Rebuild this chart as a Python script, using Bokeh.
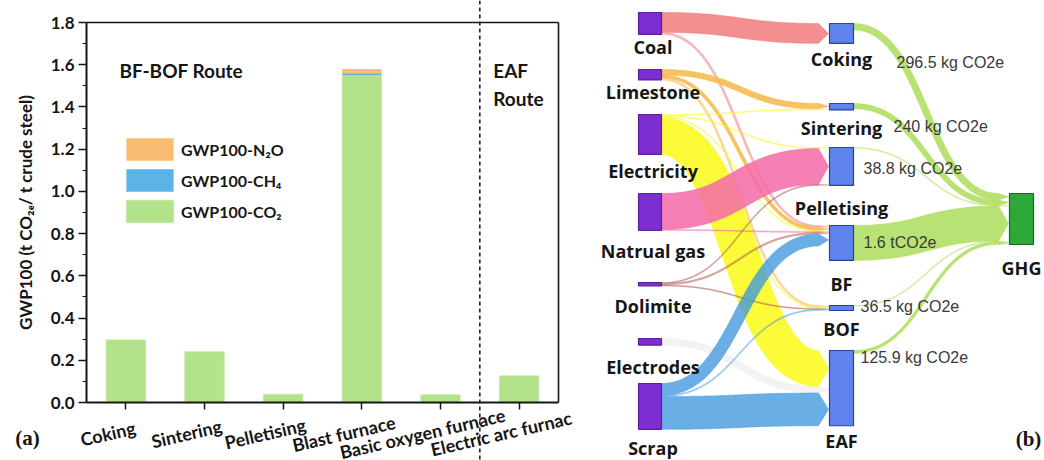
import numpy as np
from bokeh.plotting import figure
from bokeh.models import (ColumnDataSource, Range1d, Span, Label, LabelSet, Legend,
                          LegendItem, NumeralTickFormatter, FixedTicker, LinearAxis)
from bokeh.layouts import row
from bokeh.embed import file_html
from bokeh.resources import INLINE
from bokeh.core.properties import value

# ---------- (a) GWP100 of each process step (t CO2e / t crude steel) ----------
processes = ["Coking", "Sintering", "Pelletising", "Blast furnace",
             "Basic oxygen furnace", "Electric arc furnace"]
process_tick_labels = ["Coking", "Sintering", "Pelletising", "Blast furnace",
                       "Basic oxygen furnace", "Electric arc furnac"]
gwp_co2 = [0.2965, 0.2400, 0.0388, 1.5500, 0.0365, 0.1259]
gwp_ch4 = [0.0, 0.0, 0.0, 0.0100, 0.0, 0.0]
gwp_n2o = [0.0, 0.0, 0.0, 0.0200, 0.0, 0.0]
gwp_ticks = [0.0, 0.2, 0.4, 0.6, 0.8, 1.0, 1.2, 1.4, 1.6, 1.8]
gas_names = ["GWP100-N\u2082O", "GWP100-CH\u2084", "GWP100-CO\u2082"]

# ---------- (b) inputs -> process steps -> GHG ----------
input_nodes = ["Coal", "Limestone", "Electricity", "Natrual gas", "Dolimite", "Electrodes", "Scrap"]
step_nodes = ["Coking", "Sintering", "Pelletising", "BF", "BOF", "EAF"]
sink_node = "GHG"
flow_source = ["Coal", "Coal",
               "Limestone", "Limestone", "Limestone",
               "Electricity", "Electricity", "Electricity", "Electricity", "Electricity",
               "Natrual gas", "Natrual gas",
               "Dolimite", "Dolimite", "Dolimite",
               "Electrodes",
               "Scrap", "Scrap", "Scrap"]
flow_target = ["Coking", "BF",
               "Sintering", "BF", "BOF",
               "Sintering", "Pelletising", "BF", "BOF", "EAF",
               "Pelletising", "BF",
               "Pelletising", "BF", "BOF",
               "EAF",
               "BF", "BOF", "EAF"]
flow_value = [910, 90,
              250, 140, 90,
              45, 45, 45, 45, 1650,
              1650, 45,
              45, 70, 45,
              300,
              550, 50, 1500]
step_ghg_kg = [296.5, 240.0, 38.8, 1600.0, 36.5, 125.9]

# ---------- shared styling ----------
INK = "#161616"
AX_FONT = "Lato"
GREEN, BLUE, ORANGE = "#b2e38b", "#5cb3e6", "#f8bc72"

# =====================================================================
# (a) stacked bars
# =====================================================================
n_proc = len(processes)
x_pos = [i + 0.5 for i in range(n_proc)]
Y_MAX = gwp_ticks[-1]
PX_X = 472 / n_proc          # pixels per category slot
PX_Y = 380 / Y_MAX           # pixels per t CO2e
pa = figure(width=580, height=460,
            x_range=Range1d(-86 / PX_X, n_proc + 22 / PX_X),
            y_range=Range1d(-58 / PX_Y, Y_MAX + 22 / PX_Y),
            title=None, output_backend="svg", toolbar_location=None,
            x_axis_location=None, y_axis_location=None,
            min_border_left=0, min_border_right=0, min_border_top=0, min_border_bottom=0)
pa.background_fill_color = "white"
pa.border_fill_color = "white"
pa.grid.visible = False
pa.outline_line_color = None

src_a = ColumnDataSource(dict(x=x_pos, co2=gwp_co2, ch4=gwp_ch4, n2o=gwp_n2o))
bars = pa.vbar_stack(["co2", "ch4", "n2o"], x="x", width=0.5, source=src_a,
                     fill_color=[GREEN, BLUE, ORANGE],
                     line_color=["#c8e8a4", None, None], line_width=1)

minor = [(a + b) / 2 for a, b in zip(gwp_ticks[:-1], gwp_ticks[1:])]
yax = LinearAxis(fixed_location=0, bounds=(0, Y_MAX),
                 ticker=FixedTicker(ticks=gwp_ticks, minor_ticks=minor),
                 formatter=NumeralTickFormatter(format="0.0"))
yax.axis_label = "GWP100 (t CO\u2082\u2091/ t crude steel)"
yax.axis_label_text_font = AX_FONT
yax.axis_label_text_font_style = "bold"
yax.axis_label_text_font_size = "17px"
yax.axis_label_text_color = INK
yax.axis_label_standoff = 12
yax.major_label_text_font = AX_FONT
yax.major_label_text_font_style = "bold"
yax.major_label_text_font_size = "17px"
yax.major_label_text_color = INK
yax.major_label_standoff = 4
yax.major_tick_out = 8
yax.major_tick_in = 0
yax.minor_tick_out = 4
yax.minor_tick_in = 0
yax.axis_line_width = 2
yax.major_tick_line_width = 1.5
yax.minor_tick_line_width = 1.2
yax.axis_line_color = INK
yax.major_tick_line_color = INK
yax.minor_tick_line_color = INK
pa.add_layout(yax, "left")

xax = LinearAxis(fixed_location=0, bounds=(0, n_proc), ticker=FixedTicker(ticks=x_pos, minor_ticks=[]))
xax.major_label_text_color = None
xax.major_tick_out = 7
xax.major_tick_in = 0
xax.minor_tick_line_color = None
xax.axis_line_width = 2
xax.major_tick_line_width = 1.5
xax.axis_line_color = INK
xax.major_tick_line_color = INK
pa.add_layout(xax, "below")

# closing frame lines on top and right
for loc, side, bnds in [(Y_MAX, "above", (0, n_proc)), (n_proc, "right", (0, Y_MAX))]:
    ax = LinearAxis(fixed_location=loc, bounds=bnds, ticker=FixedTicker(ticks=[], minor_ticks=[]))
    ax.major_label_text_color = None
    ax.major_tick_line_color = None
    ax.minor_tick_line_color = None
    ax.axis_line_color = INK
    ax.axis_line_width = 1.6
    pa.add_layout(ax, side)

legend = Legend(items=[LegendItem(label=gas_names[0], renderers=[bars[2]]),
                       LegendItem(label=gas_names[1], renderers=[bars[1]]),
                       LegendItem(label=gas_names[2], renderers=[bars[0]])],
                location=(120, 235), padding=0, margin=0, spacing=3,
                glyph_width=59, glyph_height=28, label_height=28, label_standoff=2,
                border_line_color=None, background_fill_alpha=0,
                label_text_font=AX_FONT, label_text_font_size="16px",
                label_text_font_style="bold", label_text_color=INK)
pa.add_layout(legend)

# rotated category labels under the axis
tick_src = ColumnDataSource(dict(x=x_pos, y=[0] * n_proc, text=process_tick_labels))
pa.add_layout(LabelSet(x="x", y="y", text="text", source=tick_src,
                       x_offset=-18, y_offset=-31, angle=0.227,
                       text_align="center", text_baseline="middle",
                       text_font=value(AX_FONT), text_font_style="bold",
                       text_font_size="18px", text_color=INK))

# route separator and route names
pa.add_layout(Span(location=n_proc - 1, dimension="height", line_color=INK,
                   line_width=1.5, line_dash="4 3"))
route_style = dict(text_font=AX_FONT, text_font_style="bold", text_font_size="19px",
                   text_color=INK, text_baseline="middle")
pa.add_layout(Label(x=0.42, y=1.573, text="BF-BOF Route", **route_style))
pa.add_layout(Label(x=5.17, y=1.573, text="EAF", **route_style))
pa.add_layout(Label(x=5.17, y=1.44, text="Route", **route_style))
pa.add_layout(Label(x=-0.75, y=-0.17, text="(a)", text_font="Liberation Serif",
                    text_font_style="bold", text_font_size="21px", text_color=INK,
                    text_align="center", text_baseline="middle"))

# =====================================================================
# (b) Sankey of inputs, process steps and GHG
# =====================================================================
pb = figure(width=464, height=460, x_range=Range1d(580, 1044), y_range=Range1d(460, 0),
            title=None, output_backend="svg", toolbar_location=None,
            x_axis_location=None, y_axis_location=None,
            min_border_left=0, min_border_right=0, min_border_top=0, min_border_bottom=0)
pb.grid.visible = False
pb.outline_line_color = None
pb.background_fill_color = "white"
pb.border_fill_color = "white"

COL_LEFT = [638, 829, 1009]
COL_W = [23, 24, 24]
input_top = [12, 69, 114, 193, 282, 338, 383]
step_top = [23, 103, 147, 225, 305, 350]
sink_top = 193
PX_PER_UNIT = 51.0 / 2337.7
TIP = 10

link_color = {"Coal": ("#f27b7b", 0.85), "Limestone": ("#f6b746", 0.85),
              "Electricity": ("#fbfb1f", 0.88), "Natrual gas": ("#f56aa8", 0.85),
              "Dolimite": ("#a84b45", 0.75), "Electrodes": ("#cbbfc8", 0.2),
              "Scrap": ("#3f98df", 0.78)}
GHG_LINK = ("#a9dc55", 0.82)

names = input_nodes + step_nodes + [sink_node]
col = [0] * len(input_nodes) + [1] * len(step_nodes) + [2]
top = input_top + step_top + [sink_top]
n_in = len(input_nodes)

links = []  # (source index, target index, value, color, alpha)
for s, t, v in zip(flow_source, flow_target, flow_value):
    c, a = link_color[s]
    links.append((input_nodes.index(s), n_in + step_nodes.index(t), v, c, a))
for i, v in enumerate(step_ghg_kg):
    links.append((n_in + i, len(names) - 1, v, GHG_LINK[0], GHG_LINK[1]))

N = len(names)
out_sum = [0.0] * N
in_sum = [0.0] * N
for s, t, v, _, _ in links:
    out_sum[s] += v
    in_sum[t] += v
height = [max(o, i) * PX_PER_UNIT for o, i in zip(out_sum, in_sum)]

y0 = {}
y1 = {}
for node in range(N):
    outs = sorted([k for k, l in enumerate(links) if l[0] == node], key=lambda k: top[links[k][1]])
    y = top[node]
    for k in outs:
        y0[k] = y
        y += links[k][2] * PX_PER_UNIT
    ins = sorted([k for k, l in enumerate(links) if l[1] == node], key=lambda k: top[links[k][0]])
    y = top[node]
    for k in ins:
        y1[k] = y
        y += links[k][2] * PX_PER_UNIT


def ribbon(xa, ya, xb, yb, w, tip, n=60):
    """Band of constant thickness w along a horizontal-tangent cubic, ending in an arrow."""
    xe = xb - tip
    xm = (xa + xe) / 2
    t = np.linspace(0, 1, n)
    u = 1 - t
    px = u**3 * xa + 3 * u**2 * t * xm + 3 * u * t**2 * xm + t**3 * xe
    py = u**3 * ya + 3 * u**2 * t * ya + 3 * u * t**2 * yb + t**3 * yb
    dx = 3 * u**2 * (xm - xa) + 3 * t**2 * (xe - xm)
    dy = 6 * u * t * (yb - ya)
    L = np.hypot(dx, dy)
    L[L == 0] = 1
    nx, ny = -dy / L, dx / L
    h = w / 2
    tx, ty = px - nx * h, py - ny * h
    bx, by = px + nx * h, py + ny * h
    xs = np.concatenate([tx, [xb], bx[::-1]])
    ys = np.concatenate([ty, [yb], by[::-1]])
    return xs.tolist(), ys.tolist()


xs_l, ys_l, fc_l, fa_l = [], [], [], []
for k, (s, t, v, c, a) in enumerate(links):
    w = v * PX_PER_UNIT
    xa = COL_LEFT[col[s]] + COL_W[col[s]]
    xb = COL_LEFT[col[t]] - 1
    xs, ys = ribbon(xa, y0[k] + w / 2, xb, y1[k] + w / 2, w, TIP)
    xs_l.append(xs)
    ys_l.append(ys)
    fc_l.append(c)
    fa_l.append(a if w > 2.5 else a * 0.6)
pb.patches("xs", "ys", source=ColumnDataSource(dict(xs=xs_l, ys=ys_l, fc=fc_l, fa=fa_l)),
           fill_color="fc", fill_alpha="fa", line_color="fc", line_alpha="fa", line_width=0.6)

node_fill = ["#7d2ed1"] * len(input_nodes) + ["#5f84ee"] * len(step_nodes) + ["#2fa83a"]
node_line = ["#5a1f99"] * len(input_nodes) + ["#2b3f9e"] * len(step_nodes) + ["#1b6622"]
node_src = ColumnDataSource(dict(
    left=[COL_LEFT[c] for c in col],
    right=[COL_LEFT[c] + COL_W[c] for c in col],
    top=top,
    bottom=[tp + h for tp, h in zip(top, height)],
    fc=node_fill, lc=node_line))
pb.quad(left="left", right="right", top="top", bottom="bottom", source=node_src,
        fill_color="fc", line_color="lc", line_width=1.2)

# node names
label_y = [46, 91, 170, 250, 305, 366, 447] + [58, 127, 207, 283, 328, 440] + [267]
label_x = [COL_LEFT[c] + COL_W[c] / 2 + (3 if c == 0 else 0) for c in col]
pb.text(x=label_x, y=label_y, text=names, text_align="center", text_baseline="middle",
        text_font=value("Open Sans"), text_font_style="bold", text_font_size="18px",
        text_color=INK)


# emission amount of each step
def fmt(v):
    return f"{v / 1000:g} tCO2e" if v >= 1000 else f"{v:g} kg CO2e"


val_x = [896, 893, 863, 863, 860, 860]
val_y = [62, 126, 168, 242, 306, 357]
pb.text(x=val_x, y=val_y, text=[fmt(v) for v in step_ghg_kg], text_align="left",
        text_baseline="middle", text_font=value("Liberation Sans"), text_font_size="16px",
        text_color="#3a3a3a")

pb.text(x=[1028], y=[438], text=["(b)"], text_align="center", text_baseline="middle",
        text_font=value("Liberation Serif"), text_font_style="bold", text_font_size="21px",
        text_color=INK)

layout = row(pa, pb)
open("out.html", "w").write(file_html(layout, INLINE))
